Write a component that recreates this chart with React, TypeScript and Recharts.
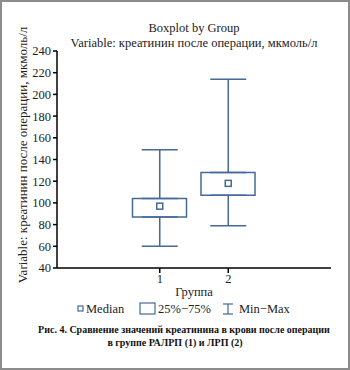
import React from 'react';
import { ComposedChart, Bar, Scatter, ErrorBar, XAxis, YAxis } from 'recharts';

// Boxplot values (креатинин после операции, мкмоль/л)
const groups = [1, 2];
const mins = [60, 79];
const q1s = [87, 107];
const medians = [97, 118];
const q3s = [104, 128];
const maxs = [149, 214];
const yTicks = [40, 60, 80, 100, 120, 140, 160, 180, 200, 220, 240];
const xTicks = [1, 2];

const BLUE = '#44699a';
const FONT = '"Liberation Serif", "Times New Roman", serif';

const rows = groups.map((g, i) => ({
  group: g,
  min: mins[i],
  q1: q1s[i],
  median: medians[i],
  q3: q3s[i],
  max: maxs[i],
  upperErr: [0, maxs[i] - q3s[i]],
  lowerErr: [q1s[i] - mins[i], 0],
}));

const MedianSquare = (props: any) => {
  const { cx, cy } = props;
  if (cx == null || cy == null) return <g />;
  return <rect x={cx - 3} y={cy - 3} width={6} height={6} fill="#fff" stroke={BLUE} strokeWidth={1.5} />;
};

const Empty = () => <g />;

export default function App() {
  return (
    <div style={{ position: 'absolute', left: 0, top: 0, width: 350, height: 370, background: '#fff', fontFamily: FONT }}>
      <div style={{ position: 'absolute', left: 0, top: 0 }}>
        <ComposedChart width={350} height={300} data={rows} margin={{ top: 51, right: 19, bottom: 2, left: 0 }}>
          <XAxis
            dataKey="group"
            type="number"
            domain={[-0.5, 3.5]}
            ticks={xTicks}
            height={30}
            tickSize={5}
            tickMargin={1}
            stroke="#000"
            strokeWidth={1.5}
            tick={{ fill: '#222', fontSize: 12.5, fontFamily: FONT }}
          />
          <YAxis
            type="number"
            domain={[40, 240]}
            ticks={yTicks}
            width={57}
            tickSize={4}
            tickMargin={2}
            stroke="#000"
            strokeWidth={1.5}
            tick={{ fill: '#222', fontSize: 12.5, fontFamily: FONT }}
          />
          <Scatter dataKey="q3" shape={Empty} isAnimationActive={false}>
            <ErrorBar dataKey="upperErr" direction="y" width={18} stroke={BLUE} strokeWidth={1.5} isAnimationActive={false} />
          </Scatter>
          <Scatter dataKey="q1" shape={Empty} isAnimationActive={false}>
            <ErrorBar dataKey="lowerErr" direction="y" width={18} stroke={BLUE} strokeWidth={1.5} isAnimationActive={false} />
          </Scatter>
          <Bar
            dataKey={(d: any) => [d.q1, d.q3]}
            barSize={54}
            fill="#fff"
            stroke={BLUE}
            strokeWidth={1.5}
            isAnimationActive={false}
          />
          <Scatter dataKey="median" shape={MedianSquare} isAnimationActive={false} />
        </ComposedChart>
      </div>
      <svg width={350} height={370} style={{ position: 'absolute', left: 0, top: 0, pointerEvents: 'none' }}>
        <g fontFamily={FONT} fill="#222" fontSize={12.5} textAnchor="middle">
          <text x={194} y={32}>Boxplot by Group</text>
          <text x={194} y={47}>Variable: креатинин после операции, мкмоль/л</text>
          <text x={0} y={0} transform="translate(27,155) rotate(-90)" fontSize={13}>
            Variable: креатинин после операции, мкмоль/л
          </text>
          <text x={194} y={296}>Группа</text>
        </g>
        {/* legend */}
        <g fontFamily={FONT} fill="#222" fontSize={12.5}>
          <rect x={78} y={306} width={5} height={5} fill="#fff" stroke={BLUE} strokeWidth={1.2} />
          <text x={86} y={313}>Median</text>
          <rect x={140} y={303} width={15} height={11} fill="#fff" stroke={BLUE} strokeWidth={1.2} />
          <text x={158} y={313}>25%−75%</text>
          <g stroke={BLUE} strokeWidth={1.2}>
            <line x1={223} y1={304} x2={233} y2={304} />
            <line x1={228} y1={304} x2={228} y2={314} />
            <line x1={223} y1={314} x2={233} y2={314} />
          </g>
          <text x={239} y={313}>Min−Max</text>
        </g>
        {/* caption */}
        <g fontFamily={FONT} fill="#111" fontSize={10} fontWeight="bold" textAnchor="middle">
          <text x={184} y={333}>Рис. 4. Сравнение значений креатинина в крови после операции</text>
          <text x={175} y={346}>в группе РАЛРП (1) и ЛРП (2)</text>
        </g>
      </svg>
      <div
        style={{
          position: 'absolute',
          left: 0,
          top: 0,
          width: 350,
          height: 370,
          boxSizing: 'border-box',
          border: '2px solid #8c8c8c',
          pointerEvents: 'none',
        }}
      />
    </div>
  );
}
